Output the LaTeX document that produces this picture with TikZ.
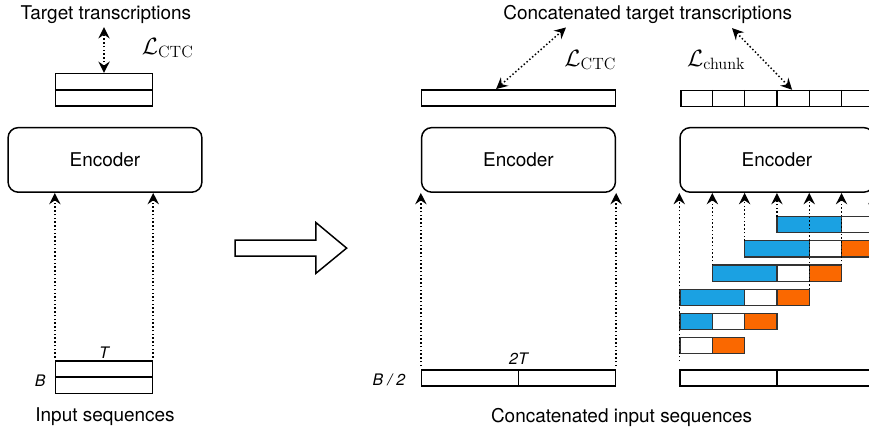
\documentclass[tikz,border=0pt]{standalone}
\usepackage[no-math]{fontspec}
\setmainfont{TeX Gyre Heros}
\usetikzlibrary{calc,arrows.meta}

\definecolor{histblue}{HTML}{1BA1E2}
\definecolor{futorange}{HTML}{FA6800}

\tikzset{
    box/.style={draw, line width=1.3pt, inner sep=0pt},
    enc/.style={box, rounded corners=9pt, minimum width=6cm, minimum height=2cm,
        font=\fontsize{16.7}{20}\selectfont},
    feed/.style={dotted, line width=1.3pt, -{Stealth[length=10pt,width=10pt,inset=3.5pt]}},
    loss/.style={dotted, line width=1.3pt,
        {Stealth[length=10pt,width=10pt,inset=3.5pt]}-{Stealth[length=10pt,width=10pt,inset=3.5pt]}},
    lbl/.style={font=\fontsize{16.7}{20}\selectfont},
    dimlbl/.style={font=\fontsize{14}{16}\selectfont\itshape},
    losslbl/.style={font=\huge},
    cell/.style={draw=black!80, line width=1pt},
}

\begin{document}
\begin{tikzpicture}[x=1cm, y=-1cm]
    % One unit is one token slot, y runs downwards
    \def\xL{0.25}    % left edge, single batch
    \def\xM{13.05}   % left edge, concatenated batch
    \def\xR{21.05}   % left edge, chunked batch
    \def\ytop{6.705} % top of first chunk row
    \def\dy{0.75}    % chunk row spacing

    \useasboundingbox (0,0) rectangle (26.9,13.375);
    \clip (0,0) rectangle (26.9,13.375);

    % Encoders
    \node[enc] (encL) at (\xL+3, 4.95) {Encoder};
    \node[enc] (encM) at (\xM+3, 4.95) {Encoder};
    \node[enc] (encR) at (\xR+3, 4.95) {Encoder};

    % Single batch: targets and inputs
    \node[box, minimum width=3cm, minimum height=1cm] (tgtL) at (3.22, 2.78) {};
    \draw[line width=1.3pt] (tgtL.west) -- (tgtL.east);
    \node[box, minimum width=3cm, minimum height=1cm] (inL) at (3.22, 11.675) {};
    \draw[line width=1.3pt] (inL.west) -- (inL.east);
    \node[dimlbl] (lenL) at (3.22, 10.92) {T};
    \node[dimlbl] (batL) at (1.24, 11.8) {B};

    \draw[feed] ($(inL.north west)+(0,-0.08)$) -- (inL.north west |- encL.south);
    \draw[feed] ($(inL.north east)+(0,-0.08)$) -- (inL.north east |- encL.south);
    \coordinate (topL) at (3.22, 0.84);
    \draw[loss] (tgtL.north) -- (topL);

    \node[lbl] (titleL) at (3.28, 0.45) {Target transcriptions};
    \node[losslbl] (ctcL) at (5.19, 1.49) {$\mathcal{L}_{\mathrm{CTC}}$};
    \node[lbl] (inputL) at (3.25, 12.91) {Input sequences};

    % Block arrow in between
    \draw[line width=1.3pt] (7.28,7.43) -- (9.78,7.43) -- (9.78,6.89) -- (10.73,7.68)
        -- (9.78,8.46) -- (9.78,7.93) -- (7.28,7.93) -- cycle;

    % Concatenated batch
    \node[box, minimum width=6cm, minimum height=0.5cm] (tgtM) at (\xM+3, 3.03) {};
    \node[box, minimum width=6cm, minimum height=0.5cm] (inM) at (\xM+3, 11.705) {};
    \draw[line width=1.3pt] (inM.north) -- (inM.south);
    \node[dimlbl] (lenM) at (\xM+3, 11.1) {2T};
    \node[dimlbl] (batM) at (12.04, 11.76) {B / 2};

    \draw[feed] ($(inM.north west)+(0,-0.1)$) -- (inM.north west |- encM.south);
    \draw[feed] ($(inM.north east)+(0,-0.1)$) -- (inM.north east |- encM.south);
    \coordinate (topM) at (17.52, 0.85);
    \draw[loss] ($(tgtM.north west)+(2.33,0)$) -- (topM);
    \node[losslbl] (ctcM) at (18.27, 1.86) {$\mathcal{L}_{\mathrm{CTC}}$};

    % Chunked batch: target cells
    \node[box, minimum width=7cm, minimum height=0.5cm, anchor=north west] (tgtR) at (\xR, 2.78) {};
    \foreach \i in {1,...,6}
        \draw[line width=1.3pt] ($(tgtR.north west)+(\i,0)$) -- ++(0,0.5);
    \node[box, minimum width=6cm, minimum height=0.5cm] (inR) at (\xR+3, 11.705) {};
    \draw[line width=1.3pt] (inR.north) -- (inR.south);

    % Chunk rows: history (blue), current chunk (white), look-ahead (orange)
    \foreach \r/\s in {0/3, 1/2, 2/1, 3/0} {
        \draw[cell, fill=histblue]  (\xR+\s, \ytop+\r*\dy) rectangle ++(2, 0.5);
        \draw[cell, fill=white]     (\xR+\s+2, \ytop+\r*\dy) rectangle ++(1, 0.5);
        \draw[cell, fill=futorange] (\xR+\s+3, \ytop+\r*\dy) rectangle ++(1, 0.5);
    }
    \draw[cell, fill=histblue]  (\xR, \ytop+4*\dy) rectangle ++(1, 0.5);
    \draw[cell, fill=white]     (\xR+1, \ytop+4*\dy) rectangle ++(1, 0.5);
    \draw[cell, fill=futorange] (\xR+2, \ytop+4*\dy) rectangle ++(1, 0.5);
    \draw[cell, fill=white]     (\xR, \ytop+5*\dy) rectangle ++(1, 0.5);
    \draw[cell, fill=futorange] (\xR+1, \ytop+5*\dy) rectangle ++(1, 0.5);

    % Feeds into the chunked encoder
    \draw[feed] ($(inR.north west)+(0,-0.25)$) -- (inR.north west |- encR.south);
    \foreach \i/\r in {1/2, 2/1, 3/0, 4/3, 5/2, 6/1}
        \draw[feed] (\xR+\i, \ytop+\r*\dy) coordinate (p) -- (p |- encR.south);

    \coordinate (topR) at (22.66, 0.87);
    \draw[loss] ($(tgtR.north west)+(3.47,0)$) -- (topR);
    \node[losslbl] (chunkR) at (22.17, 1.86) {$\mathcal{L}_{\mathrm{chunk}}$};

    \node[lbl] (titleM) at (20.05, 0.46) {Concatenated target transcriptions};
    \node[lbl] (inputM) at (19.24, 12.91) {Concatenated input sequences};
\end{tikzpicture}
\end{document}
